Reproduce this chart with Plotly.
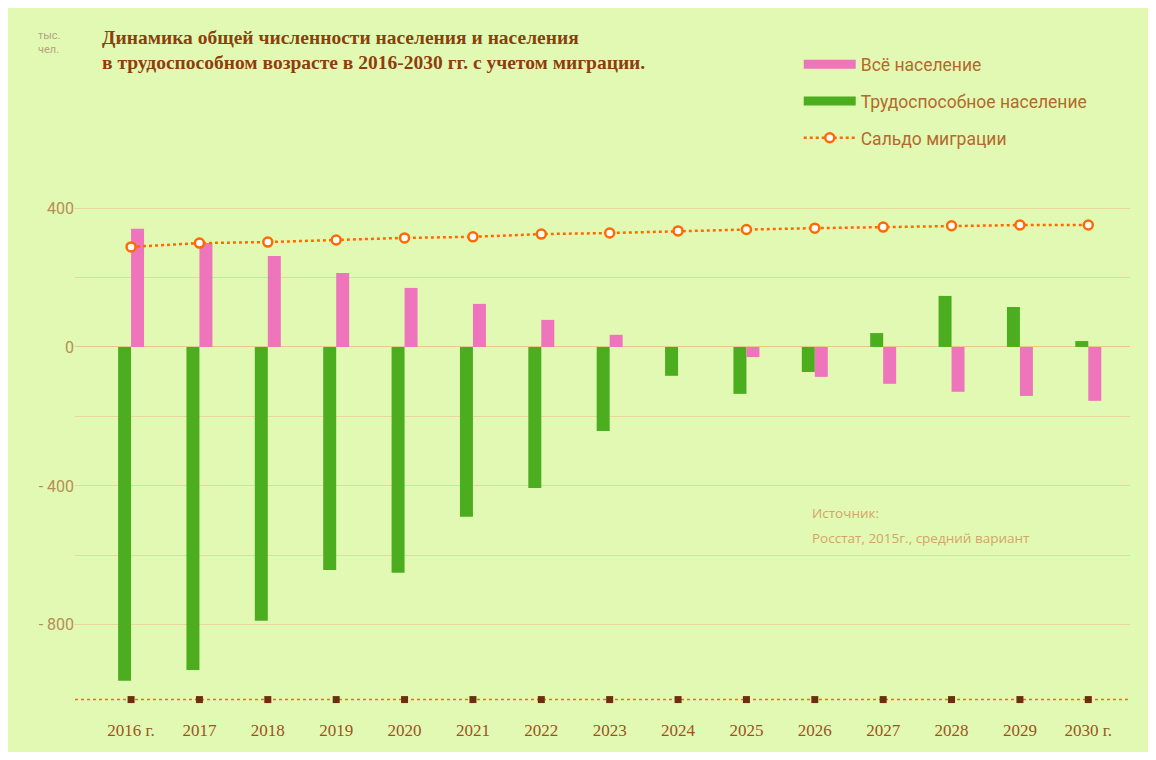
import plotly.graph_objects as go

years = ["2016 г.", "2017", "2018", "2019", "2020", "2021", "2022", "2023",
         "2024", "2025", "2026", "2027", "2028", "2029", "2030 г."]
total_pop = [340, 299, 262, 213, 170, 124, 78, 35, 0, -29, -86, -106, -129, -141, -155]
working_pop = [-961, -930, -788, -642, -650, -489, -406, -242, -83, -135, -72, 40, 147, 115, 17]
migration = [288, 299, 302, 308, 314, 317, 325, 328, 334, 338, 342, 345, 349, 351, 351]

y_tickvals = [-800, -600, -400, -200, 0, 200, 400]
y_ticktext = ["- 800", "", "- 400", "", "0", "", "400"]

BG = "#E2F9B4"
PINK = "#EE74BC"
GREEN = "#4CAE1F"
ORANGE = "#FF6A00"
BASE = -1015

fig = go.Figure()
fig.add_trace(go.Bar(x=years, y=working_pop, name="Трудоспособное население",
                     marker=dict(color=GREEN, line=dict(width=0)), showlegend=False))
fig.add_trace(go.Bar(x=years, y=total_pop, name="Всё население",
                     marker=dict(color=PINK, line=dict(width=0)), showlegend=False))
fig.add_trace(go.Scatter(x=years, y=migration, name="Сальдо миграции", mode="lines+markers",
                         line=dict(color=ORANGE, width=2.5, dash="dot"),
                         marker=dict(symbol="circle", size=9, color="white",
                                     line=dict(color=ORANGE, width=2.5)),
                         showlegend=False))
fig.add_trace(go.Scatter(x=years, y=[BASE] * len(years), mode="markers",
                         marker=dict(symbol="square", size=7, color="#6B2E0E"),
                         showlegend=False, hoverinfo="skip"))

# legend entries (wide swatches like the reference)
fig.add_trace(go.Scatter(x=[None], y=[None], mode="lines", name="Всё население",
                         line=dict(color=PINK, width=9), legendgroup="a"))
fig.add_trace(go.Scatter(x=[None], y=[None], mode="lines", name="Трудоспособное население",
                         line=dict(color=GREEN, width=9), legendgroup="b"))
fig.add_trace(go.Scatter(x=[None], y=[None], mode="lines+markers", name="Сальдо миграции",
                         line=dict(color=ORANGE, width=2.5, dash="dot"),
                         marker=dict(symbol="circle", size=9, color="white",
                                     line=dict(color=ORANGE, width=2.5)),
                         legendgroup="c"))

fig.add_shape(type="line", xref="paper", yref="y", x0=0, x1=1, y0=BASE, y1=BASE,
              line=dict(color=ORANGE, width=1.5, dash="dot"), layer="below")

fig.add_annotation(xref="paper", yref="paper", x=0.0237, y=1.224, xanchor="left", yanchor="top",
                   text="<b>Динамика общей численности населения и населения</b><br>"
                        "<b>в трудоспособном возрасте в 2016-2030 гг. с учетом миграции.</b>",
                   showarrow=False, align="left",
                   font=dict(family="Liberation Serif", size=19.5, color="#8E3E0C"))
fig.add_annotation(xref="paper", yref="paper", x=-0.037, y=1.22, xanchor="left", yanchor="top",
                   text="тыс.<br>чел.", showarrow=False, align="left",
                   font=dict(family="Roboto", size=11, color="#B4A57E"))
fig.add_annotation(xref="paper", yref="paper", x=0.697, y=0.352, xanchor="left", yanchor="middle",
                   text="Источник:", showarrow=False, align="left",
                   font=dict(family="Open Sans", size=13.5, color="#D2A566"))
fig.add_annotation(xref="paper", yref="paper", x=0.697, y=0.308, xanchor="left", yanchor="middle",
                   text="Росстат, 2015г., средний вариант", showarrow=False,
                   align="left", font=dict(family="Open Sans", size=13.5, color="#D2A566"))

fig.update_layout(
    width=1140, height=744,
    margin=dict(l=67, r=18, t=142, b=42),
    paper_bgcolor=BG, plot_bgcolor=BG,
    barmode="group", bargap=0.62, bargroupgap=0,
    showlegend=True,
    legend=dict(x=0.686, y=1.185, xanchor="left", yanchor="top", bgcolor="rgba(0,0,0,0)",
                font=dict(family="Roboto", size=17.5, color="#B36A2A"),
                traceorder="grouped", tracegroupgap=11, itemwidth=52),
    xaxis=dict(type="category", range=[-0.82, 14.61], showgrid=False, zeroline=False,
               showline=False, ticks="", ticklabelstandoff=8,
               tickfont=dict(family="Liberation Serif", size=17, color="#9A5420")),
    yaxis=dict(range=[-1045, 567], tickvals=y_tickvals, ticktext=y_ticktext,
               showgrid=True, gridcolor="rgba(240,190,140,0.6)", gridwidth=1,
               zeroline=True, zerolinecolor="rgba(240,180,120,0.7)", zerolinewidth=1,
               showline=False, ticks="",
               tickfont=dict(family="Roboto", size=16, color="#B68E55")),
)

fig.write_html("out.html")
